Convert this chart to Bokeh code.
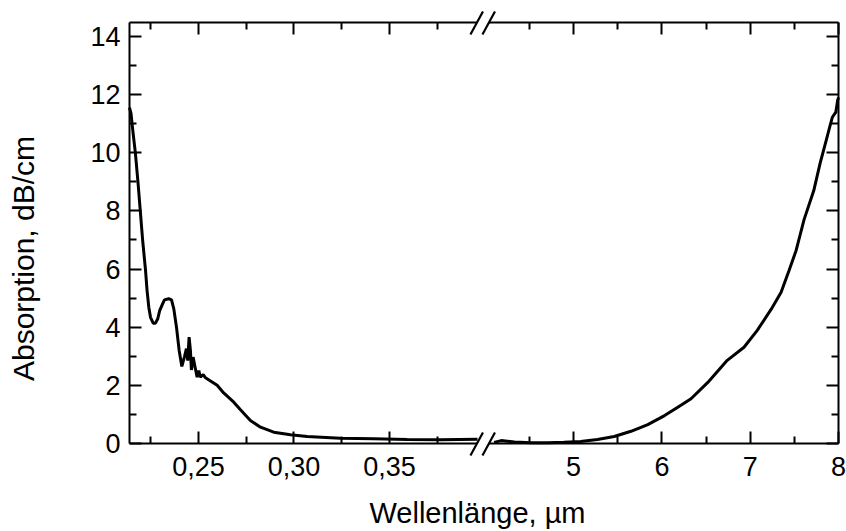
import math
from bokeh.plotting import figure
from bokeh.models import Range1d, LinearAxis, FixedTicker, CustomJSTickFormatter, Label
from bokeh.embed import file_html
from bokeh.resources import INLINE

# ---------------- data ----------------
uv_wavelength = [0.2139, 0.2147, 0.2154, 0.2170, 0.2184, 0.2196, 0.2208, 0.2223, 0.2231, 0.2240,
                 0.2249, 0.2263, 0.2275, 0.2287, 0.2297, 0.2310, 0.2322, 0.2344, 0.2359, 0.2371,
                 0.2385, 0.2399, 0.2413, 0.2427, 0.2437, 0.2444, 0.2451, 0.2458, 0.2463, 0.2472,
                 0.2484, 0.2493, 0.2502, 0.2510, 0.2525, 0.2537, 0.2563, 0.2598, 0.2632, 0.2685,
                 0.2720, 0.2772, 0.2825, 0.2894, 0.2982, 0.3069, 0.3243, 0.3418, 0.3593, 0.3767,
                 0.3961]
uv_absorption = [11.55, 11.35, 10.90, 9.98, 8.94, 7.96, 6.98, 5.95, 5.26, 4.69,
                 4.34, 4.14, 4.14, 4.29, 4.57, 4.77, 4.94, 4.98, 4.94, 4.63,
                 4.00, 3.20, 2.65, 2.99, 3.26, 2.85, 3.66, 3.20, 2.53, 2.97,
                 2.57, 2.28, 2.51, 2.28, 2.37, 2.26, 2.15, 2.00, 1.74, 1.42,
                 1.16, 0.79, 0.56, 0.39, 0.30, 0.24, 0.18, 0.16, 0.14, 0.13,
                 0.15]

ir_wavelength = [4.10, 4.18, 4.25, 4.33, 4.52, 4.71, 4.89, 5.08, 5.27, 5.46,
                 5.65, 5.84, 6.03, 6.18, 6.33, 6.52, 6.74, 6.93, 7.08, 7.24,
                 7.35, 7.44, 7.52, 7.61, 7.72, 7.79, 7.86, 7.90, 7.93, 7.97,
                 7.99, 8.00]
ir_absorption = [0.04, 0.10, 0.08, 0.05, 0.03, 0.03, 0.04, 0.07, 0.14, 0.24,
                 0.42, 0.65, 0.96, 1.25, 1.54, 2.10, 2.86, 3.31, 3.89, 4.63,
                 5.20, 5.95, 6.64, 7.70, 8.70, 9.62, 10.42, 10.88, 11.22, 11.40,
                 11.80, 11.90]

uv_major = [0.25, 0.30, 0.35]
uv_major_labels = ["0,25", "0,30", "0,35"]
uv_minor = [0.225, 0.275, 0.325, 0.375]
ir_major = [5, 6, 7, 8]
ir_major_labels = ["5", "6", "7", "8"]
ir_minor = [4.5, 5.5, 6.5, 7.5]
y_major = [0, 2, 4, 6, 8, 10, 12, 14]
y_minor = [1, 3, 5, 7, 9, 11, 13]

x_title = "Wellenlänge, µm"
y_title = "Absorption, dB/cm"

# ---------------- layout (pixels) ----------------
FONT = "Liberation Sans"
CANVAS_W, CANVAS_H = 846, 531
BOX_LEFT, BOX_TOP, BOX_W, BOX_H = 129, 22, 709, 421   # axis box inside the canvas
UV_START, UV_SCALE = 0.2139, 1910.0     # µm at box left, px per µm
IR_END, IR_SCALE = 8.0, 88.3            # µm at box right, px per µm
BREAK_UV = 0.40                         # where the UV piece ends
Y_END = 14.48
Y_SCALE = BOX_H / Y_END
BOX_BOTTOM = BOX_TOP + BOX_H
BOX_RIGHT = BOX_LEFT + BOX_W

# the plotting frame fills the whole canvas; the axis box sits inside it
uv_range = Range1d(UV_START - BOX_LEFT / UV_SCALE, UV_START + (CANVAS_W - BOX_LEFT) / UV_SCALE)
ir_range = Range1d(IR_END - BOX_RIGHT / IR_SCALE, IR_END + (CANVAS_W - BOX_RIGHT) / IR_SCALE)
y_range = Range1d(-(CANVAS_H - BOX_BOTTOM) / Y_SCALE, Y_END + BOX_TOP / Y_SCALE)

def ir_to_primary(v):
    return uv_range.start + (v - ir_range.start) * IR_SCALE / UV_SCALE

def px_to_x(px):
    return uv_range.start + px / UV_SCALE

def px_to_y(py):
    return (BOX_BOTTOM - py) / Y_SCALE

box_x0 = UV_START
box_x1 = ir_to_primary(IR_END)

p = figure(frame_width=CANVAS_W, frame_height=CANVAS_H,
           x_range=uv_range, y_range=y_range,
           x_axis_location=None, y_axis_location=None,
           min_border_left=0, min_border_right=0, min_border_top=0, min_border_bottom=0,
           output_backend="svg", toolbar_location=None)
p.extra_x_ranges = {"ir": ir_range}
p.outline_line_color = None
p.grid.visible = False
p.background_fill_color = "white"
p.border_fill_color = "white"

p.line(uv_wavelength, uv_absorption, line_color="black", line_width=3)
p.line(ir_wavelength, ir_absorption, line_color="black", line_width=3, x_range_name="ir")

major_pos = uv_major + [ir_to_primary(v) for v in ir_major]
major_labels = uv_major_labels + ir_major_labels
minor_pos = uv_minor + [ir_to_primary(v) for v in ir_minor]

x_ticker = FixedTicker(ticks=major_pos, minor_ticks=minor_pos)
x_formatter = CustomJSTickFormatter(args=dict(pos=major_pos, labs=major_labels), code="""
let best = 0, bd = 1e9;
for (let i = 0; i < pos.length; i++) { const d = Math.abs(pos[i] - tick); if (d < bd) { bd = d; best = i } }
return labs[best];
""")
y_ticker = FixedTicker(ticks=y_major, minor_ticks=y_minor)
blank = CustomJSTickFormatter(code="return ''")

def style(ax, labels=True):
    ax.axis_line_width = 2
    ax.axis_line_color = "black"
    ax.major_tick_in = 12
    ax.major_tick_out = 0
    ax.minor_tick_in = 7
    ax.minor_tick_out = 0
    ax.major_tick_line_width = 2
    ax.minor_tick_line_width = 2
    ax.major_tick_line_color = "black"
    ax.minor_tick_line_color = "black"
    ax.major_label_text_font = FONT
    ax.major_label_text_color = "black"
    if labels:
        ax.major_label_text_font_size = "27px"
    else:
        ax.major_label_text_font_size = "0px"
        ax.major_label_standoff = 0

eps = 1e-9
bottom = LinearAxis(ticker=x_ticker, formatter=x_formatter, fixed_location=0,
                    bounds=(box_x0 - eps, box_x1 + eps))
style(bottom)
bottom.major_label_standoff = 13
top = LinearAxis(ticker=x_ticker, formatter=blank, fixed_location=Y_END,
                 bounds=(box_x0 - eps, box_x1 + eps))
style(top, labels=False)
left = LinearAxis(ticker=y_ticker, fixed_location=box_x0, bounds=(0, Y_END))
style(left)
left.major_label_standoff = 9
right = LinearAxis(ticker=y_ticker, formatter=blank, fixed_location=box_x1, bounds=(0, Y_END))
style(right, labels=False)

p.add_layout(bottom, "below")
p.add_layout(top, "above")
p.add_layout(left, "left")
p.add_layout(right, "right")

# ---------------- axis titles ----------------
p.add_layout(Label(x=px_to_x(477), y=px_to_y(512), text=x_title,
                   text_align="center", text_baseline="middle",
                   text_font=FONT, text_font_size="29px", text_color="black"))
p.add_layout(Label(x=px_to_x(23), y=px_to_y(258), text=y_title, angle=math.pi / 2,
                   text_align="center", text_baseline="middle",
                   text_font=FONT, text_font_size="30px", text_color="black"))

# ---------------- axis break marks (pixel offsets from the break) ----------------
def bx(dx):
    return BREAK_UV + dx / UV_SCALE

def by(base, dy):
    return base - dy / Y_SCALE

for base in (0.0, Y_END):
    p.patch([bx(-14.5), bx(-2.5), bx(10), bx(-2)],
            [by(base, 12), by(base, 12), by(base, -11), by(base, -11)],
            fill_color="white", line_color=None, level="overlay")
    for off in (-14.5, -2.5):
        p.line([bx(off), bx(off + 12.5)], [by(base, 12), by(base, -11)],
               line_color="black", line_width=2.2, level="overlay")

open("out.html", "w").write(file_html(p, INLINE))
